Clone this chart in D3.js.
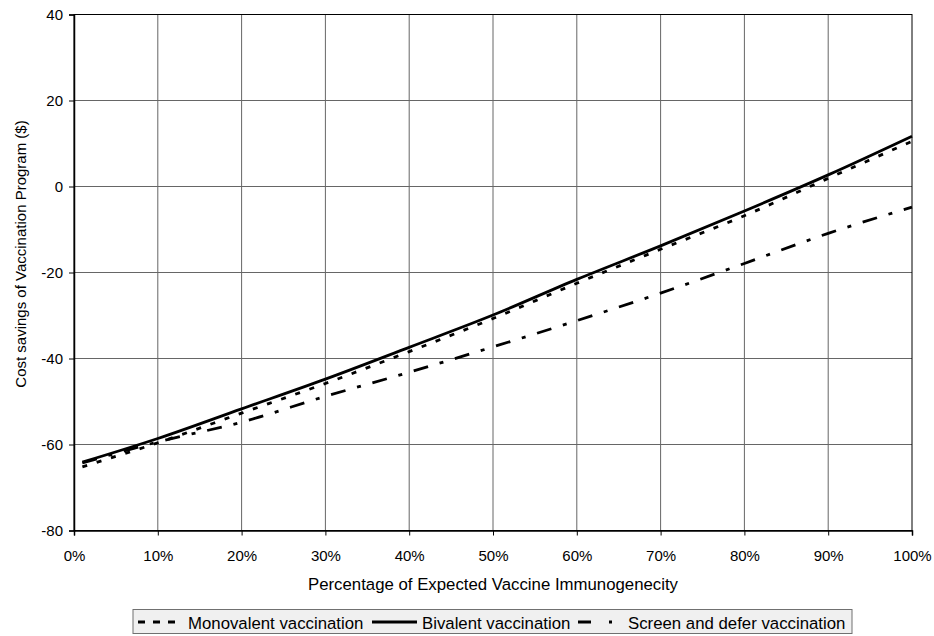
<!DOCTYPE html>
<html><head><meta charset="utf-8">
<script src="https://cdn.jsdelivr.net/npm/d3@7"></script>
<style>
html,body{margin:0;padding:0;background:#fff;}
svg{display:block;font-family:"Liberation Sans",Arial,sans-serif;}
</style></head>
<body>
<svg id="chart" width="934" height="636"></svg>
<script>
const xPercent = [1, 10, 20, 30, 40, 50, 60, 70, 80, 90, 100];
const monovalent = [-65.2, -59.6, -52.7, -45.8, -38.4, -30.7, -22.5, -14.6, -6.8, 1.9, 10.5];
const bivalent = [-64.1, -58.6, -51.7, -44.8, -37.4, -29.9, -21.6, -13.8, -5.7, 2.7, 11.7];
const screenDefer = [-64.3, -59.4, -54.8, -48.8, -43.2, -37.3, -31.2, -24.8, -17.9, -10.9, -4.8];
const xTicks = [0, 10, 20, 30, 40, 50, 60, 70, 80, 90, 100];
const yTicks = [-80, -60, -40, -20, 0, 20, 40];
const seriesNames = ["Monovalent vaccination", "Bivalent vaccination", "Screen and defer vaccination"];

const svg = d3.select("#chart");
const L = 74, R = 912, T = 14.5, B = 530.5;
const x = d3.scaleLinear().domain([0, 100]).range([L, R]);
const y = d3.scaleLinear().domain([-80, 40]).range([B, T]);

// gridlines
const g = svg.append("g");
g.selectAll("line.vg").data(xTicks.slice(1, -1)).enter().append("line")
  .attr("x1", d => x(d)).attr("x2", d => x(d)).attr("y1", T).attr("y2", B)
  .attr("stroke", "#666").attr("stroke-width", 1);
g.selectAll("line.hg").data(yTicks.slice(1, -1)).enter().append("line")
  .attr("x1", L).attr("x2", R).attr("y1", d => y(d)).attr("y2", d => y(d))
  .attr("stroke", "#666").attr("stroke-width", 1);
// border
svg.append("rect").attr("x", L).attr("y", T).attr("width", R - L).attr("height", B - T)
  .attr("fill", "none").attr("stroke", "#000").attr("stroke-width", 1);

// axes
const xAxis = svg.append("g").attr("transform", `translate(0,${B})`)
  .call(d3.axisBottom(x).tickValues(xTicks).tickSize(5).tickPadding(15).tickFormat(d => d + "%"));
const yAxis = svg.append("g").attr("transform", `translate(${L},0)`)
  .call(d3.axisLeft(y).tickValues(yTicks).tickSize(5).tickPadding(6).tickFormat(d => String(d)));
[xAxis, yAxis].forEach(a => {
  a.selectAll("path").attr("stroke", "#000").attr("stroke-width", 1.5);
  a.selectAll("line").attr("stroke", "#000");
  a.selectAll("text").attr("fill", "#000").attr("font-size", 15)
   .attr("font-family", '"Liberation Sans",Arial,sans-serif');
});
yAxis.selectAll("text").attr("dy", "0.35em");

// titles
svg.append("text").attr("x", (L + R) / 2).attr("y", 590).attr("text-anchor", "middle")
  .attr("font-size", 16.8).text("Percentage of Expected Vaccine Immunogenecity");
svg.append("text").attr("transform", `translate(26,254) rotate(-90)`)
  .attr("text-anchor", "middle").attr("font-size", 15)
  .text("Cost savings of Vaccination Program ($)");

// lines
const styles = [
  {vals: monovalent, dash: "5,10"},
  {vals: bivalent, dash: null},
  {vals: screenDefer, dash: "15,12,4,12"}
];
const line = d3.line().x(d => x(d[0])).y(d => y(d[1])).curve(d3.curveMonotoneX);
styles.forEach(s => {
  svg.append("path").datum(xPercent.map((p, i) => [p, s.vals[i]]))
    .attr("d", line).attr("fill", "none").attr("stroke", "#000")
    .attr("stroke-width", 2.8).attr("stroke-dasharray", s.dash);
});

// legend
const lg = svg.append("g");
lg.append("rect").attr("x", 133).attr("y", 609.5).attr("width", 719).attr("height", 24)
  .attr("fill", "#f0f0f0").attr("stroke", "#707070").attr("stroke-width", 1);
const items = [
  {sx1: 138, sx2: 177, tx: 188, dash: "7,8"},
  {sx1: 372, sx2: 417, tx: 422, dash: null},
  {sx1: 578, sx2: 612, tx: 628, dash: "13,18,4,20"}
];
items.forEach((it, i) => {
  lg.append("line").attr("x1", it.sx1).attr("x2", it.sx2).attr("y1", 622).attr("y2", 622)
    .attr("stroke", "#000").attr("stroke-width", 2.8).attr("stroke-dasharray", it.dash);
  lg.append("text").attr("x", it.tx).attr("y", 629).attr("font-size", 16.8).text(seriesNames[i]);
});
</script>
</body></html>
